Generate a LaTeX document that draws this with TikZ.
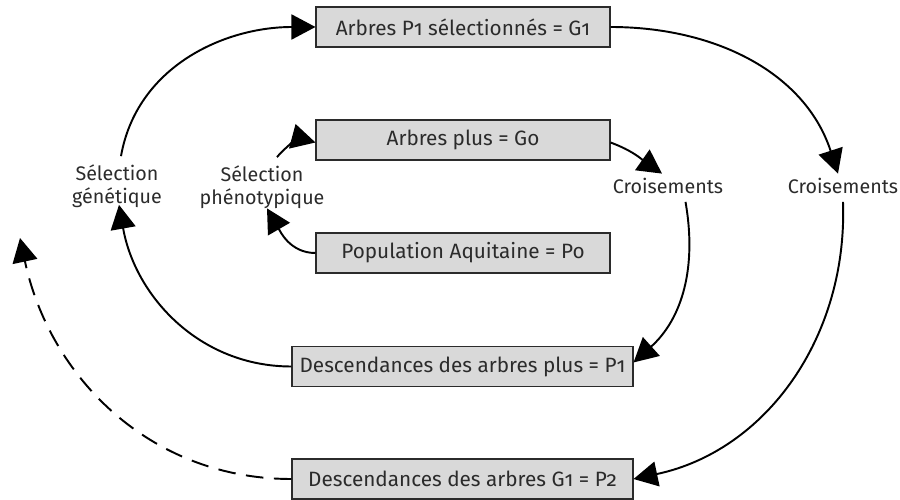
\documentclass[tikz,border=0pt]{standalone}
\usepackage{fontspec}
\setmainfont{Fira Sans}[Numbers=OldStyle]
\usetikzlibrary{arrows.meta}
\definecolor{boxgray}{HTML}{D9D9D9}
\definecolor{inkgray}{HTML}{2B2B2B}
\tikzset{
  stage/.style={draw=inkgray, fill=boxgray, line width=0.6pt,
    minimum height=0.8cm, inner sep=0pt, text=inkgray,
    font=\fontsize{11.8}{14}\selectfont},
  process/.style={align=center, text=inkgray, inner sep=1pt,
    font=\fontsize{11.2}{13.4}\selectfont},
  flow/.style={-{Triangle[length=0.48cm,width=0.5cm]}, line width=1.1pt},
}
\begin{document}
\begin{tikzpicture}
      \useasboundingbox (0,0) rectangle (18,9.98);
      \node[stage, minimum width=5.88cm] (G1) at (9.26,9.44) {Arbres P1 sélectionnés = G1};
      \node[stage, minimum width=5.88cm] (G0) at (9.26,7.18) {Arbres plus = Go};
      \node[stage, minimum width=5.88cm] (P0) at (9.26,4.92) {Population Aquitaine = Po};
      \node[stage, minimum width=6.82cm] (P1) at (9.25,2.65) {Descendances des arbres plus = P1};
      \node[stage, minimum width=6.82cm] (P2) at (9.25,0.40) {Descendances des arbres G1 = P2};
      \node[process] (selgen) at (2.34,6.26) {Sélection\\génétique};
      \node[process] (selphe) at (5.24,6.24) {Sélection\\phénotypique};
      \node[process] (crois1) at (13.36,6.26) {Croisements};
      \node[process] (crois2) at (16.86,6.26) {Croisements};
      \begin{scope}[flow]
        \draw (P1.west) to[out=180, in=-80] ([xshift=0.04cm, yshift=0.1cm]selgen.south);
        \draw ([xshift=0.08cm, yshift=0.12cm]selgen.north) to[out=80, in=180] (G1.west);
        \draw (G1.east) to[out=0, in=108] ([xshift=-0.1cm, yshift=0.05cm]crois2.north);
        \draw ([yshift=-0.12cm]crois2.south) to[out=-88, in=12] (P2.east);
        \draw ([yshift=-0.05cm]G0.east) to[out=-20, in=145] ([xshift=-0.12cm, yshift=0.05cm]crois1.north);
        \draw ([xshift=0.35cm, yshift=-0.12cm]crois1.south) to[out=-80, in=42] ([yshift=0.08cm]P1.east);
        \draw (P0.west) to[out=180, in=-60] ([xshift=0.1cm, yshift=0.05cm]selphe.south);
        \draw ([xshift=0.3cm, yshift=0.12cm]selphe.north) to[out=50, in=165] ([yshift=-0.05cm]G0.west);
        \draw[dashed, dash pattern=on 10pt off 6pt] (P2.west) to[out=180, in=-78] (0.4,5.22);
      \end{scope}
\end{tikzpicture}
\end{document}
